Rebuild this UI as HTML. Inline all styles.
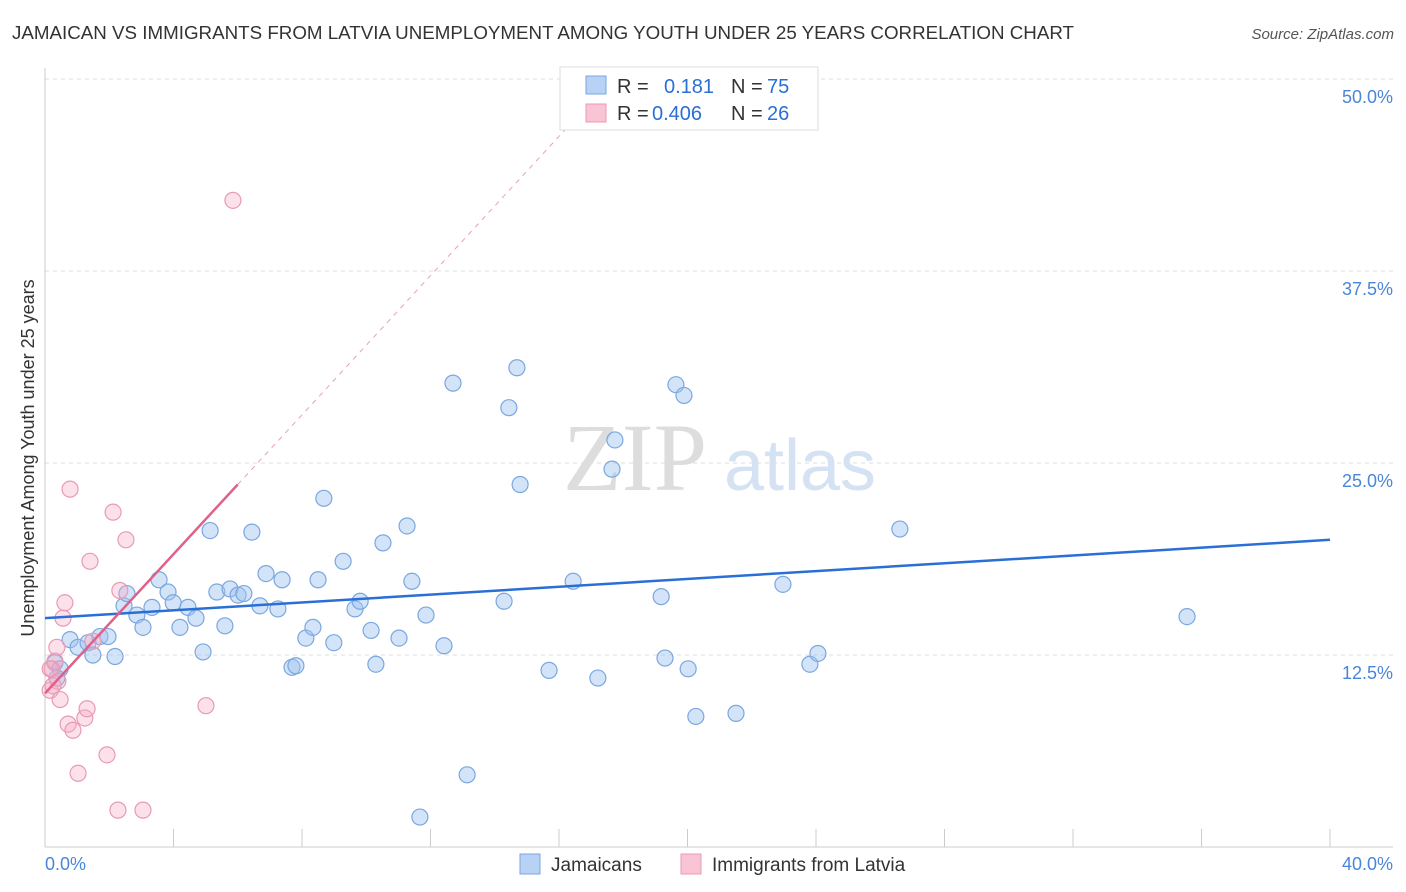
<!DOCTYPE html>
<html><head><meta charset="utf-8"><style>
body{margin:0;background:#fff;font-family:"Liberation Sans",sans-serif;}
svg{display:block}
</style></head><body>
<svg id="chart" width="1406" height="892" xmlns="http://www.w3.org/2000/svg">
<text x="12" y="39" font-size="18" fill="#333" textLength="1062" lengthAdjust="spacingAndGlyphs">JAMAICAN VS IMMIGRANTS FROM LATVIA UNEMPLOYMENT AMONG YOUTH UNDER 25 YEARS CORRELATION CHART</text>
<text x="1394" y="39" font-size="15" fill="#555" font-style="italic" text-anchor="end">Source: ZipAtlas.com</text>
<g id="grid"></g>
<g><text x="635" y="490" font-size="96" font-family="Liberation Serif,serif" fill="#ddd" text-anchor="middle">ZIP</text><text x="800" y="490" font-size="72" fill="#d4e2f4" text-anchor="middle">atlas</text></g>
<text transform="translate(34,458) rotate(-90)" font-size="18" fill="#333" text-anchor="middle">Unemployment Among Youth under 25 years</text>
<g id="marks"></g>
<g>
<rect x="560" y="67" width="258" height="63" fill="#fff" stroke="#ddd"/>
<rect x="586" y="76" width="20" height="18" fill="#b8d2f5" stroke="#7aa7e0"/>
<text x="617" y="93" font-size="20" fill="#333">R = </text><text x="664" y="93" font-size="20" fill="#2a6fd6">0.181</text>
<text x="731" y="93" font-size="20" fill="#333">N = </text><text x="767" y="93" font-size="20" fill="#2a6fd6">75</text>
<rect x="586" y="104" width="20" height="18" fill="#f9c4d4" stroke="#e89ab5"/>
<text x="617" y="120" font-size="20" fill="#333">R = </text><text x="652" y="120" font-size="20" fill="#2a6fd6">0.406</text>
<text x="731" y="120" font-size="20" fill="#333">N = </text><text x="767" y="120" font-size="20" fill="#2a6fd6">26</text>
</g>
<g>
<rect x="520" y="854" width="20" height="20" fill="#b8d2f5" stroke="#7aa7e0"/>
<text x="551" y="871" font-size="19" fill="#333">Jamaicans</text>
<rect x="681" y="854" width="20" height="20" fill="#f9c4d4" stroke="#e89ab5"/>
<text x="712" y="871" font-size="19" fill="#333">Immigrants from Latvia</text>
</g>
</svg>
<script>
const yTicks=[12.5,25,37.5,50];
const yTickLabels=["12.5%","25.0%","37.5%","50.0%"];
const xTickLabels=["0.0%","40.0%"];
const blueX=[0.31,0.47,0.37,0.78,1.03,1.34,1.49,1.71,1.96,2.18,2.46,2.55,2.86,3.05,3.33,3.55,3.83,3.99,4.20,4.45,4.70,4.92,5.14,5.35,5.60,5.76,6.01,6.19,6.44,6.69,6.88,7.25,7.38,7.69,7.81,8.12,8.34,8.50,8.68,8.99,9.28,9.65,9.81,10.15,10.30,10.52,11.02,11.27,11.42,11.86,12.42,12.70,13.14,11.67,14.29,14.44,14.69,14.79,15.69,16.44,17.21,17.65,17.74,19.18,19.30,19.64,19.89,20.02,20.26,21.51,22.97,23.81,24.06,26.61,35.55];
const blueY=[12.0,11.6,11.0,13.5,13.0,13.3,12.5,13.7,13.7,12.4,15.7,16.5,15.1,14.3,15.6,17.4,16.6,15.9,14.3,15.6,14.9,12.7,20.6,16.6,14.4,16.8,16.4,16.5,20.5,15.7,17.8,15.5,17.4,11.7,11.8,13.6,14.3,17.4,22.7,13.3,18.6,15.5,16.0,14.1,11.9,19.8,13.6,20.9,17.3,15.1,13.1,30.2,4.7,1.95,16.0,28.6,31.2,23.6,11.5,17.3,11.0,24.6,26.5,16.3,12.3,30.1,29.4,11.6,8.5,8.7,17.1,11.9,12.6,20.7,15.0];
const pinkX=[0.16,0.22,0.31,0.37,0.40,0.47,0.56,0.62,0.78,0.72,0.87,1.03,1.24,1.31,1.40,1.49,1.93,2.12,2.27,2.33,2.52,3.05,5.01,5.85,0.16,0.25];
const pinkY=[10.2,11.6,12.1,13.0,10.8,9.6,14.9,15.9,23.3,8.0,7.6,4.8,8.4,9.0,18.6,13.4,6.0,21.8,2.4,16.7,20.0,2.4,9.2,42.1,11.6,10.5];
const blueTrend=[0,14.9,40,20.0];
const pinkTrend=[0,10.0,6.0,23.6];
const X=v=>45+v*32.125, Y=v=>847-v*15.36;
const NS="http://www.w3.org/2000/svg";
const grid=document.getElementById('grid'),marks=document.getElementById('marks');
function mk(tag,attrs,parent){const e=document.createElementNS(NS,tag);for(const k in attrs)e.setAttribute(k,attrs[k]);parent.appendChild(e);return e;}
yTicks.forEach((t,i)=>{
 const l=mk('line',{x1:45,x2:1393,y1:Y(t),y2:Y(t),stroke:'#ddd','stroke-dasharray':'4,4'},grid);
 
 
 const tx=mk('text',{x:1393,y:Y(t)+24,'font-size':18,fill:'#4a86d8','text-anchor':'end'},grid);
 tx.textContent=yTickLabels[i];
 
 
});
let ax=mk('line',{x1:45,x2:45,y1:68,y2:847,stroke:'#ccc'},grid);


ax=mk('line',{x1:45,x2:1393,y1:847,y2:847,stroke:'#ccc'},grid);


for(let i=0;i<=10;i++){const t=mk('line',{x1:X(i*4),x2:X(i*4),y1:829,y2:847,stroke:'#ccc'},grid);
 
 }
[[0,'start',45],[40,'end',1393]].forEach((d,i)=>{const t=mk('text',{x:d[2],y:870,'font-size':18,fill:'#4a86d8','text-anchor':d[1]},grid);t.textContent=xTickLabels[i];
 
 });
blueX.forEach((x,i)=>{const c=mk('circle',{cx:X(x),cy:Y(blueY[i]),r:8,fill:'rgba(160,195,240,0.45)',stroke:'#7aa7e0','stroke-width':1.2},marks);
 
 });
pinkX.forEach((x,i)=>{const c=mk('circle',{cx:X(x),cy:Y(pinkY[i]),r:8,fill:'rgba(245,170,195,0.35)',stroke:'#e89ab5','stroke-width':1.2},marks);
 
 });
let ln=mk('line',{x1:X(blueTrend[0]),y1:Y(blueTrend[1]),x2:X(blueTrend[2]),y2:Y(blueTrend[3]),stroke:'#2a6fd6','stroke-width':2.5},marks);


const slope=(pinkTrend[3]-pinkTrend[1])/(pinkTrend[2]-pinkTrend[0]);
const xEnd=(50-pinkTrend[1])/slope;
ln=mk('line',{x1:X(pinkTrend[2]),y1:Y(pinkTrend[3]),x2:X(xEnd),y2:Y(50),stroke:'#e8a0b8','stroke-width':1,'stroke-dasharray':'5,5'},marks);


ln=mk('line',{x1:X(pinkTrend[0]),y1:Y(pinkTrend[1]),x2:X(pinkTrend[2]),y2:Y(pinkTrend[3]),stroke:'#e0608a','stroke-width':2.5},marks);


</script>
</body></html>
